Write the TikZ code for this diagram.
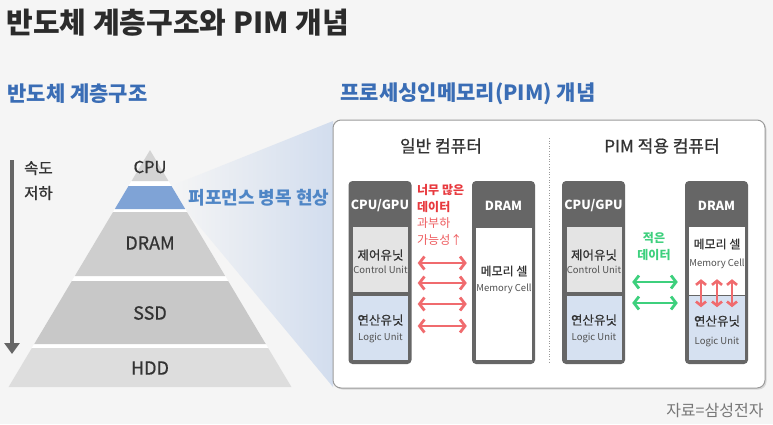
\documentclass[tikz,border=0pt]{standalone}
\usepackage{fontspec}
\setmainfont{Noto Sans CJK KR}
\newfontfamily\medfont{Noto Sans CJK KR}[FakeBold=0.7]
\usetikzlibrary{arrows.meta,shadows}

\definecolor{bgcol}{HTML}{F5F5F5}
\definecolor{titlecol}{HTML}{2B2B2B}
\definecolor{textdark}{HTML}{333333}
\definecolor{subblue}{HTML}{3A6DB5}
\definecolor{neckblue}{HTML}{4F86C6}
\definecolor{bandblue}{HTML}{7FA3D6}
\definecolor{wedgeblue}{HTML}{D2DDEE}
\definecolor{cpugray}{HTML}{D4D4D4}
\definecolor{dramgray}{HTML}{CECECE}
\definecolor{ssdgray}{HTML}{C8C8C8}
\definecolor{hddgray}{HTML}{DDDDDD}
\definecolor{speedgray}{HTML}{666666}
\definecolor{boxgray}{HTML}{9A9A9A}
\definecolor{chipgray}{HTML}{666666}
\definecolor{ctrlgray}{HTML}{E4E4E4}
\definecolor{logicblue}{HTML}{D6E1F1}
\definecolor{arrred}{HTML}{F06B6E}
\definecolor{hotred}{HTML}{E8383D}
\definecolor{softred}{HTML}{EE5D60}
\definecolor{coolgreen}{HTML}{3DD07D}
\definecolor{srcgray}{HTML}{777777}

\newcommand{\fsz}[2]{\fontsize{#1}{#2}\selectfont}

\begin{document}
\begin{tikzpicture}[x=1pt,y=-1pt,
  chip/.style={fill=chipgray,rounded corners=4pt,minimum width=63pt,minimum height=183pt,inner sep=0pt},
  unit/.style={minimum width=55pt,inner sep=0pt},
  lbl/.style={text=textdark,inner sep=0pt,align=center},
  chiplbl/.style={text=white,inner sep=0pt,font=\fsz{12.5}{16}\bfseries},
  korlbl/.style={lbl,font=\medfont\fsz{12.5}{15}},
  englbl/.style={lbl,text=textdark!85,font=\fsz{9.5}{11}},
  redarr/.style={draw=arrred,line width=2.8pt,{Straight Barb[length=5pt,width=13pt]}-{Straight Barb[length=5pt,width=13pt]}},
  uparr/.style={draw=arrred,line width=2.6pt,{Straight Barb[length=4pt,width=10pt]}-{Straight Barb[length=4pt,width=10pt]}},
  grnarr/.style={draw=coolgreen,line width=2.8pt,{Straight Barb[length=5pt,width=13pt]}-{Straight Barb[length=5pt,width=13pt]}}]

\fill[bgcol] (0,0) rectangle (773,424);
\useasboundingbox (0,0) rectangle (773,424);

\node[anchor=west,text=titlecol,font=\fsz{29}{34}\bfseries] (title) at (3,23) {반도체 계층구조와 PIM 개념};
\node[anchor=west,text=subblue,font=\fsz{21}{25}\bfseries] (hiertitle) at (4,94) {반도체 계층구조};
\node[anchor=west,text=subblue,font=\fsz{21}{25}\bfseries] (pimtitle) at (337,94) {프로세싱인메모리(PIM) 개념};

% zoom wedge
\shade[left color=bgcol,right color=wedgeblue] (171,186) -- (333,121) -- (333,387) -- (185,209) -- cycle;

% pyramid
\fill[white] (150,150) -- (291.5,387) -- (8.5,387) -- cycle;
\fill[cpugray] (150,150) -- (168.5,181) -- (131.5,181) -- cycle;
\fill[bandblue] (128.5,186) -- (171.5,186) -- (185.2,209) -- (114.8,209) -- cycle;
\fill[dramgray] (113,212) -- (187,212) -- (225.2,276) -- (74.8,276) -- cycle;
\fill[ssdgray] (71.8,281) -- (228.2,281) -- (265.8,344) -- (34.2,344) -- cycle;
\fill[hddgray] (31.8,348) -- (268.2,348) -- (291.5,387) -- (8.5,387) -- cycle;
\node[lbl,font=\medfont\fsz{16.5}{19}] (cpulbl) at (150,167) {CPU};
\node[lbl,font=\medfont\fsz{18}{20}] (dramlbl) at (150,243) {DRAM};
\node[lbl,font=\medfont\fsz{18}{20}] (ssdlbl) at (150,313) {SSD};
\node[lbl,font=\medfont\fsz{18}{20}] (hddlbl) at (150,368) {HDD};
\node[anchor=west,text=neckblue,font=\fsz{18}{21}\bfseries] (neck) at (185,198) {퍼포먼스 병목 현상};

\coordinate (slowtop) at (12,160);
\coordinate (slowbot) at (12,354);
\draw[speedgray,line width=3.5pt,-{Triangle[length=11pt,width=15pt]}] (slowtop) -- (slowbot);
\node[lbl,font=\medfont\fsz{15.5}{25},align=left,anchor=north west] (slow) at (24,161) {속도\\저하};

% PIM box
\node[draw=boxgray,line width=1pt,fill=white,rounded corners=8pt,minimum width=432pt,minimum height=268pt,
  drop shadow={opacity=0.25,shadow xshift=1.5pt,shadow yshift=-1.5pt}] (pimbox) at (549,254) {};
\draw[boxgray,dotted,line width=0.6pt] (549,138) -- (549,362);
\node[lbl,font=\medfont\fsz{17}{19}] (normhead) at (441,146) {일반 컴퓨터};
\node[lbl,font=\medfont\fsz{17}{19}] (pimhead) at (662,146) {PIM 적용 컴퓨터};

% normal computer
\node[chip] (cpuL) at (380,272.5) {};
\node[chiplbl] (cpuLt) at (380,206) {CPU/GPU};
\node[unit,fill=ctrlgray,minimum height=65pt] (ctrlL) at (380.5,259.5) {};
\node[unit,fill=logicblue,minimum height=64pt] (logicL) at (380.5,328) {};
\node[korlbl] (ctrlLk) at (380.5,255) {제어유닛};
\node[englbl] (ctrlLe) at (380.5,270) {Control Unit};
\node[korlbl] (logicLk) at (380.5,320) {연산유닛};
\node[englbl] (logicLe) at (380.5,338) {Logic Unit};

\node[chip] (dramL) at (503.5,272.5) {};
\node[chiplbl] (dramLt) at (503.5,206) {DRAM};
\node[unit,fill=white,minimum width=56pt,minimum height=132pt] (cellL) at (504,294) {};
\node[lbl,font=\medfont\fsz{12}{14}] (cellLk) at (504,271) {메모리 셀};
\node[englbl] (cellLe) at (504,289) {Memory Cell};

\node[anchor=west,text=hotred,font=\fsz{12}{17}\bfseries,align=left,inner sep=0pt] (toomuch) at (417,198.5) {너무 많은\\데이터};
\node[anchor=west,text=softred,font=\fsz{12}{17},align=left,inner sep=0pt] (overload) at (417,231.5) {과부하\\가능성↑};
\foreach \y in {263,283,304,326}
  \draw[redarr,shorten <=6pt,shorten >=5pt] (cpuL.east |- 0,\y) -- (dramL.west |- 0,\y);

% PIM computer
\node[chip] (cpuR) at (593.5,272.5) {};
\node[chiplbl] (cpuRt) at (593.5,206) {CPU/GPU};
\node[unit,fill=ctrlgray,minimum height=65pt] (ctrlR) at (594,259.5) {};
\node[unit,fill=logicblue,minimum height=64pt] (logicR) at (594,328) {};
\node[korlbl] (ctrlRk) at (594,255) {제어유닛};
\node[englbl] (ctrlRe) at (594,270) {Control Unit};
\node[korlbl] (logicRk) at (594,320) {연산유닛};
\node[englbl] (logicRe) at (594,338) {Logic Unit};

\node[chip] (dramR) at (716.5,272.5) {};
\node[chiplbl] (dramRt) at (716.5,206) {DRAM};
\node[unit,fill=white,minimum width=56pt,minimum height=68pt] (cellR) at (717,261) {};
\node[unit,fill=logicblue,minimum width=56pt,minimum height=64pt] (logicR2) at (717,328) {};
\node[lbl,font=\medfont\fsz{12}{14}] (cellRk) at (717,244) {메모리 셀};
\node[englbl] (cellRe) at (717,264) {Memory Cell};
\node[korlbl] (logicR2k) at (717,321) {연산유닛};
\node[englbl] (logicR2e) at (717,342) {Logic Unit};

\node[lbl,text=coolgreen,font=\fsz{12}{17}\bfseries] (fewdata) at (654,246.5) {적은\\데이터};
\foreach \y in {282,303}
  \draw[grnarr,shorten <=7pt,shorten >=7pt] (cpuR.east |- 0,\y) -- (dramR.west |- 0,\y);
\foreach \x in {701,717,732}
  \draw[uparr] (\x,0 |- cellR.south) ++(0,-16) -- ++(0,28);

\node[anchor=east,text=srcgray,font=\fsz{16}{18}] (source) at (767,410) {자료=삼성전자};
\end{tikzpicture}
\end{document}
